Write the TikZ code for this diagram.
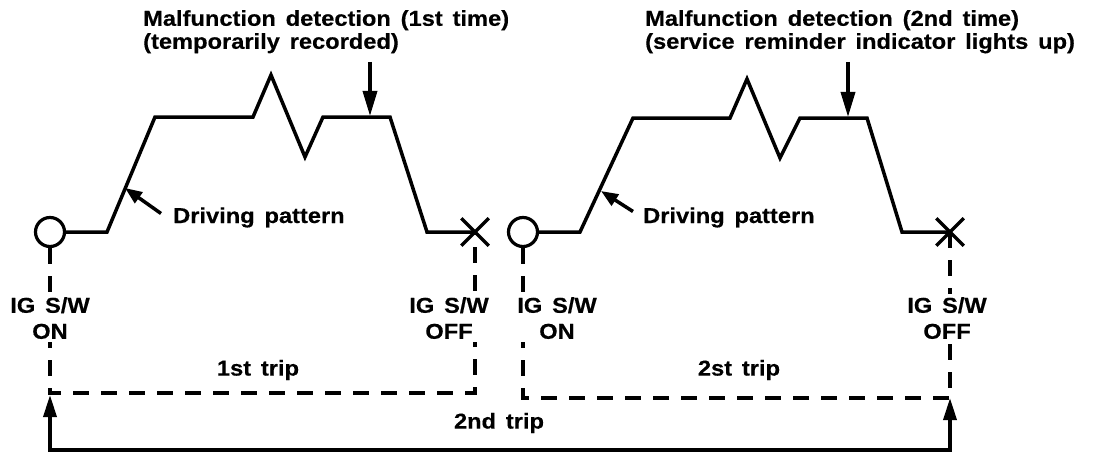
\documentclass[tikz,border=0pt]{standalone}
\usepackage{fontspec}
\setmainfont{Liberation Sans}[FakeStretch=1.1,WordSpace=1.5,FakeBold=0.4]
\usetikzlibrary{arrows.meta,shapes.misc}
\tikzset{
  curve/.style={line width=3.5pt, line join=miter},
  dline/.style={line width=3.5pt, dash pattern=on 16pt off 12pt},
  startmark/.style={circle, draw, line width=3.2pt, minimum size=29pt, inner sep=0pt},
  endmark/.style={cross out, draw, line width=3.5pt, minimum size=24pt, inner sep=0pt},
  lbl/.style={font=\bfseries\fontsize{21.5}{23}\selectfont, inner sep=0pt, align=left},
  swlbl/.style={font=\bfseries\fontsize{21.5}{26}\selectfont, inner sep=3pt, align=center, fill=white, anchor=north},
  triplbl/.style={font=\bfseries\fontsize{21.5}{22}\selectfont, inner sep=0pt},
  downarrow/.style={line width=3.5pt, -{Triangle[length=25pt,width=14pt]}},
  ptrarrow/.style={line width=3.5pt, -{Triangle[length=17pt,width=13pt]}},
  triparrow/.style={line width=3.5pt, {Triangle[length=22pt,width=13pt]}-{Triangle[length=22pt,width=13pt]}}
}
\begin{document}
\begin{tikzpicture}[x=1pt,y=-1pt]
\useasboundingbox (0,0) rectangle (1104,460);

% markers
\node[startmark] (c1) at (50,232) {};
\node[endmark] (x1) at (475,232) {};
\node[startmark] (c2) at (523,232) {};
\node[endmark] (x2) at (950,232) {};

% driving patterns
\draw[curve] (c1.east) -- (107,232) -- (155,117) -- (253,117) -- (271,75) -- (305,157) -- (323,117) -- (390,117) -- (427,232) -- (x1.center);
\draw[curve] (c2.east) -- (580,232) -- (633,118) -- (730,118) -- (747,79) -- (780,158) -- (800,118) -- (867,118) -- (902,232) -- (x2.center);

% detection labels and arrows
\node[lbl, anchor=north west] (m1) at (143,10) {Malfunction detection (1st time)\\(temporarily recorded)};
\node[lbl, anchor=north west] (m2) at (645,10) {Malfunction detection (2nd time)\\(service reminder indicator lights up)};
\coordinate (a1s) at (370,62);
\coordinate (a1e) at (370,116);
\coordinate (a2s) at (848,62);
\coordinate (a2e) at (848,117);
\draw[downarrow] (a1s) -- (a1e);
\draw[downarrow] (a2s) -- (a2e);

% driving pattern labels
\node[triplbl, anchor=base west] (dp1) at (173,223) {Driving pattern};
\node[triplbl, anchor=base west] (dp2) at (643,223) {Driving pattern};
\coordinate (p1) at (125,188);
\coordinate (p2) at (601,191);
\draw[ptrarrow] (dp1.west) ++(-12,-4) coordinate (p1s) -- (p1);
\draw[ptrarrow] (dp2.west) ++(-10,-6) coordinate (p2s) -- (p2);

% dashed trip lines
\coordinate (b1) at (475,393);
\coordinate (tipR) at (950,398);
\draw[dline] (c1.south) |- (b1) -- (x1.center);
\draw[dline] (c2.south) |- (tipR);
\draw[dline] (x2.center) -- (tipR);

% switch labels
\node[swlbl] (on1) at (50,294) {IG S/W\\ON};
\node[swlbl] (off1) at (449,294) {IG S/W\\OFF};
\node[swlbl] (on2) at (557,294) {IG S/W\\ON};
\node[swlbl] (off2) at (947,294) {IG S/W\\OFF};

% trip labels
\node[triplbl] (t1) at (258,370) {1st trip};
\node[triplbl] (t2) at (739,370) {2st trip};
\node[triplbl] (t3) at (499,423) {2nd trip};

% second trip bracket
\coordinate (tipL) at (50,395);
\coordinate (botL) at (50,450);
\coordinate (botR) at (950,450);
\draw[triparrow] (tipL) -- (botL) -- (botR) -- (tipR);
\end{tikzpicture}
\end{document}
